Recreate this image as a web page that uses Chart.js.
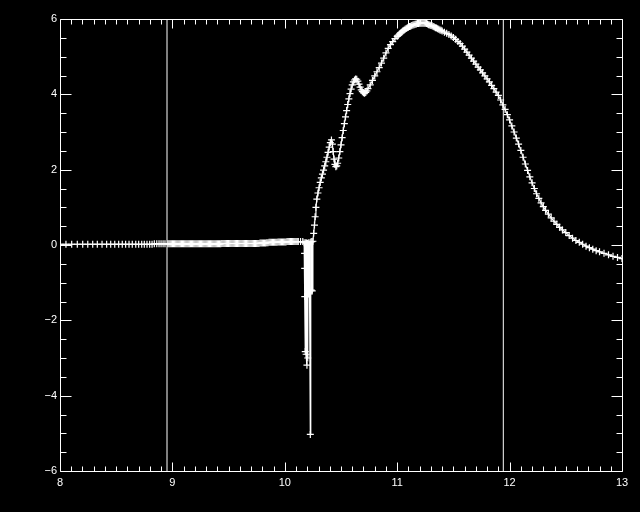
<!DOCTYPE html>
<html>
<head>
<meta charset="utf-8">
<script src="https://cdn.jsdelivr.net/npm/chart.js@4"></script>
<style>
html, body { margin: 0; padding: 0; background: #000; }
canvas { display: block; }
</style>
</head>
<body>
<canvas id="myChart" width="640" height="512"></canvas>
<script>
// values, one pair of arrays per stretch of the curve
const flatX = [8.000, 8.053, 8.104, 8.154, 8.202, 8.247, 8.291, 8.332, 8.374, 8.415,
  8.451, 8.487, 8.522, 8.554, 8.584, 8.614, 8.643, 8.674, 8.700, 8.727,
  8.750, 8.774, 8.798, 8.819, 8.839, 8.861, 8.881, 8.899, 8.917, 8.934];
const flatY = [0.02, 0.02, 0.02, 0.02, 0.02, 0.02, 0.02, 0.02, 0.02, 0.02,
  0.02, 0.02, 0.02, 0.02, 0.02, 0.02, 0.02, 0.02, 0.02, 0.02,
  0.02, 0.02, 0.02, 0.02, 0.03, 0.03, 0.03, 0.03, 0.03, 0.03];

// dense stretch between the first marker line and the dip
const bandX = [8.96, 8.97, 8.98, 8.99, 9.00, 9.01, 9.02, 9.03, 9.04, 9.05,
  9.06, 9.07, 9.08, 9.09, 9.10, 9.11, 9.12, 9.13, 9.14, 9.15,
  9.16, 9.17, 9.18, 9.19, 9.20, 9.21, 9.22, 9.23, 9.24, 9.25,
  9.26, 9.27, 9.28, 9.29, 9.30, 9.31, 9.32, 9.33, 9.34, 9.35,
  9.36, 9.37, 9.38, 9.39, 9.40, 9.41, 9.42, 9.43,
  9.44, 9.45, 9.46, 9.47, 9.48, 9.49, 9.50, 9.51, 9.52, 9.53,
  9.54, 9.55, 9.56, 9.57, 9.58, 9.59, 9.60, 9.61, 9.62, 9.63,
  9.64, 9.65, 9.66, 9.67, 9.68, 9.69, 9.70, 9.71, 9.72, 9.73,
  9.74, 9.75, 9.76, 9.77,
  9.78, 9.79, 9.80, 9.81, 9.82, 9.83,
  9.84, 9.85,
  9.86, 9.87, 9.88, 9.89, 9.90, 9.91, 9.92, 9.93,
  9.94, 9.95, 9.96, 9.97, 9.98, 9.99, 10.00, 10.01,
  10.02, 10.03, 10.04, 10.05, 10.06, 10.07, 10.08, 10.09, 10.10, 10.11, 10.12];
const bandY = [0.03, 0.03, 0.03, 0.03, 0.03, 0.03, 0.03, 0.03, 0.03, 0.03,
  0.03, 0.03, 0.03, 0.03, 0.03, 0.03, 0.03, 0.03, 0.03, 0.03,
  0.03, 0.03, 0.03, 0.03, 0.03, 0.03, 0.03, 0.03, 0.03, 0.03,
  0.03, 0.03, 0.03, 0.03, 0.03, 0.03, 0.03, 0.03, 0.03, 0.03,
  0.03, 0.03, 0.03, 0.03, 0.03, 0.03, 0.03, 0.03,
  0.04, 0.04, 0.04, 0.04, 0.04, 0.04, 0.04, 0.04, 0.04, 0.04,
  0.04, 0.04, 0.04, 0.04, 0.04, 0.04, 0.04, 0.04, 0.04, 0.04,
  0.04, 0.04, 0.04, 0.04, 0.04, 0.04, 0.04, 0.04, 0.04, 0.04,
  0.04, 0.04, 0.04, 0.04,
  0.05, 0.05, 0.05, 0.05, 0.05, 0.05,
  0.06, 0.06,
  0.07, 0.07, 0.07, 0.07, 0.07, 0.07, 0.07, 0.07,
  0.08, 0.08, 0.08, 0.08, 0.08, 0.08, 0.08, 0.08,
  0.09, 0.09, 0.09, 0.09, 0.09, 0.09, 0.09, 0.09, 0.09, 0.09, 0.09];

const spikeX = [10.140, 10.160, 10.172, 10.176, 10.177, 10.178, 10.182, 10.186, 10.190, 10.194,
  10.197, 10.201, 10.204, 10.208, 10.212, 10.216, 10.220, 10.227, 10.231, 10.236,
  10.240, 10.244, 10.250];
const spikeY = [0.09, 0.09, 0.06, -0.22, -0.62, -1.37, -2.83, 0.06, -2.90, 0.05,
  -3.19, 0.04, -3.00, 0.05, -1.30, 0.06, -1.25, -5.03, 0.08, -1.20,
  0.09, -1.22, 0.10];

const riseX = [10.257, 10.264, 10.270, 10.277, 10.285, 10.295, 10.305, 10.315, 10.325, 10.335,
  10.345, 10.355, 10.365, 10.375, 10.385, 10.395, 10.405, 10.415, 10.423, 10.430,
  10.438, 10.446, 10.454, 10.462, 10.470, 10.480, 10.490, 10.500, 10.510, 10.520,
  10.530, 10.540, 10.550, 10.560, 10.570, 10.580, 10.590, 10.600, 10.610, 10.620,
  10.630, 10.640, 10.650, 10.660, 10.670, 10.680, 10.690, 10.700, 10.710, 10.720,
  10.730];
const riseY = [0.31, 0.53, 0.75, 1.00, 1.22, 1.38, 1.52, 1.66, 1.78, 1.88,
  1.99, 2.10, 2.21, 2.33, 2.46, 2.60, 2.72, 2.79, 2.68, 2.48,
  2.28, 2.14, 2.08, 2.10, 2.17, 2.31, 2.48, 2.66, 2.85, 3.04,
  3.22, 3.40, 3.57, 3.73, 3.88, 4.02, 4.14, 4.25, 4.33, 4.38,
  4.41, 4.40, 4.35, 4.27, 4.19, 4.12, 4.07, 4.04, 4.03, 4.05,
  4.09];

const peakX = [10.74, 10.76, 10.78, 10.80, 10.82, 10.84, 10.86, 10.88, 10.90, 10.92,
  10.94, 10.96, 10.98,
  11.00, 11.01, 11.02, 11.03, 11.04, 11.05, 11.06, 11.07, 11.08, 11.09,
  11.10, 11.11, 11.12, 11.13, 11.14, 11.15, 11.16, 11.17, 11.18, 11.19,
  11.20, 11.21, 11.22, 11.23, 11.24, 11.25, 11.26, 11.27, 11.28, 11.29,
  11.30, 11.31, 11.32, 11.33, 11.34, 11.35, 11.36, 11.37, 11.38, 11.39,
  11.40, 11.42, 11.44, 11.46, 11.48, 11.50, 11.52,
  11.54, 11.56, 11.58, 11.60, 11.62, 11.64, 11.66, 11.68, 11.70, 11.72,
  11.74, 11.76, 11.78, 11.80, 11.82, 11.84, 11.86, 11.88];
const peakY = [4.15, 4.25, 4.37, 4.49, 4.60, 4.71, 4.83, 4.96, 5.10, 5.22,
  5.32, 5.40, 5.48,
  5.54, 5.57, 5.60, 5.63, 5.65, 5.68, 5.70, 5.73, 5.75, 5.77,
  5.78, 5.80, 5.81, 5.83, 5.84, 5.85, 5.86, 5.87, 5.88, 5.88,
  5.89, 5.89, 5.89, 5.89, 5.89, 5.89, 5.88, 5.87, 5.85, 5.84,
  5.83, 5.82, 5.80, 5.79, 5.77, 5.76, 5.74, 5.73, 5.71, 5.70,
  5.68, 5.65, 5.62, 5.59, 5.55, 5.51, 5.46,
  5.40, 5.35, 5.28, 5.20, 5.12, 5.04, 4.96, 4.88, 4.80, 4.72,
  4.65, 4.57, 4.49, 4.41, 4.33, 4.24, 4.15, 4.06];

const tailX = [11.90, 11.92, 11.94, 11.96, 11.98, 12.00, 12.02, 12.04, 12.06, 12.08,
  12.10, 12.12, 12.14, 12.16, 12.18, 12.20, 12.22, 12.24, 12.26, 12.28,
  12.30, 12.32, 12.345, 12.37, 12.395, 12.42, 12.445, 12.47, 12.50, 12.53,
  12.56, 12.59, 12.62, 12.65, 12.68, 12.71, 12.74, 12.77, 12.80, 12.84,
  12.88, 12.92, 12.96, 13.00];
const tailY = [3.97, 3.85, 3.72, 3.60, 3.46, 3.32, 3.16, 3.00, 2.84, 2.68,
  2.51, 2.33, 2.15, 1.98, 1.81, 1.65, 1.50, 1.36, 1.24, 1.12,
  1.02, 0.92, 0.82, 0.72, 0.63, 0.55, 0.47, 0.40, 0.33, 0.25,
  0.18, 0.12, 0.07, 0.02, -0.03, -0.07, -0.11, -0.15, -0.18, -0.22,
  -0.26, -0.30, -0.33, -0.36];

// the two vertical marker lines
const markX = [8.952, 11.944];

const xMin = 8, xMax = 13, xStep = 1, xMinor = 0.1;
const yMin = -6, yMax = 6, yStep = 2, yMinor = 0.5;

function pairs(xs, ys) { return xs.map((x, i) => ({ x: x, y: ys[i] })); }

const curve = [].concat(
  pairs(flatX, flatY), pairs(bandX, bandY), pairs(spikeX, spikeY),
  pairs(riseX, riseY), pairs(peakX, peakY), pairs(tailX, tailY));

const markSets = markX.map(v => ({
  data: [{ x: v, y: yMin }, { x: v, y: yMax }],
  showLine: true,
  borderColor: '#fff',
  borderWidth: 1,
  pointRadius: 0
}));

// black background, box and inward ticks on all four sides
const frame = {
  id: 'frame',
  beforeDraw(chart) {
    const ctx = chart.ctx;
    ctx.save();
    ctx.fillStyle = '#000';
    ctx.fillRect(0, 0, chart.width, chart.height);
    ctx.restore();
  },
  afterDraw(chart) {
    const { ctx, chartArea: a, scales: { x, y } } = chart;
    const L = Math.round(a.left) + 0.5, R = Math.round(a.right) + 0.5;
    const T = Math.round(a.top) + 0.5, B = Math.round(a.bottom) + 0.5;
    ctx.save();
    ctx.strokeStyle = '#fff';
    ctx.lineWidth = 1;
    ctx.beginPath();
    ctx.rect(L, T, R - L, B - T);
    const nx = Math.round((xMax - xMin) / xMinor);
    for (let k = 0; k <= nx; k++) {
      const px = Math.round(x.getPixelForValue(xMin + k * xMinor)) + 0.5;
      const len = k % Math.round(xStep / xMinor) === 0 ? 9 : 5;
      ctx.moveTo(px, B); ctx.lineTo(px, B - len);
      ctx.moveTo(px, T); ctx.lineTo(px, T + len);
    }
    const ny = Math.round((yMax - yMin) / yMinor);
    for (let k = 0; k <= ny; k++) {
      const py = Math.round(y.getPixelForValue(yMin + k * yMinor)) + 0.5;
      const len = k % Math.round(yStep / yMinor) === 0 ? 11 : 6;
      ctx.moveTo(L, py); ctx.lineTo(L + len, py);
      ctx.moveTo(R, py); ctx.lineTo(R - len, py);
    }
    ctx.stroke();
    ctx.restore();
  }
};

const tickFont = { family: 'Liberation Sans', size: 11 };

const ctx = document.getElementById('myChart').getContext('2d');
const myChart = new Chart(ctx, {
  type: 'scatter',
  data: {
    datasets: [
      {
        data: curve,
        showLine: true,
        borderColor: '#fff',
        borderWidth: 1.2,
        pointStyle: 'cross',
        pointRadius: 3.5,
        pointBorderColor: '#fff',
        pointBorderWidth: 1.2
      }
    ].concat(markSets)
  },
  options: {
    responsive: false,
    animation: false,
    events: [],
    layout: { padding: { top: 19, right: 18, left: 0, bottom: 0 } },
    plugins: { legend: { display: false }, tooltip: { enabled: false } },
    scales: {
      x: {
        type: 'linear',
        min: xMin, max: xMax,
        afterFit(s) { s.height = 41; },
        grid: { display: false, drawTicks: false },
        border: { display: false },
        ticks: { stepSize: xStep, color: '#fff', font: tickFont, padding: 5, maxRotation: 0 }
      },
      y: {
        min: yMin, max: yMax,
        afterFit(s) { s.width = 60; },
        grid: { display: false, drawTicks: false },
        border: { display: false },
        ticks: {
          stepSize: yStep, color: '#fff', font: tickFont, padding: 3,
          callback: v => v < 0 ? '\u2212' + (-v) : String(v)
        }
      }
    }
  },
  plugins: [frame]
});
</script>
</body>
</html>
